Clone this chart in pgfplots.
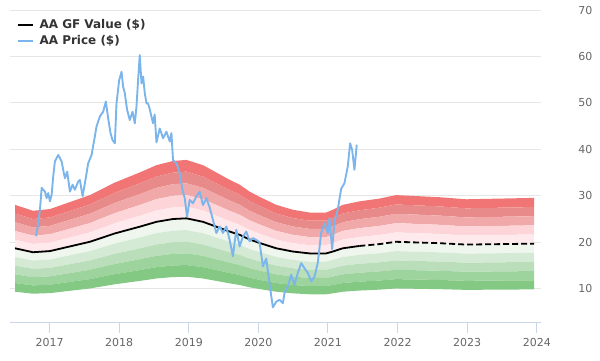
\documentclass[border=0pt]{standalone}
\usepackage{fontspec}
\setmainfont{DejaVu Sans}
\usepackage{pgfplots}
\usepackage{pgfplotstable}
\pgfplotsset{compat=1.18}
\usepgfplotslibrary{fillbetween}

\definecolor{rA}{RGB}{242,117,117}
\definecolor{rB}{RGB}{233,138,138}
\definecolor{rC}{RGB}{240,168,168}
\definecolor{rD}{RGB}{253,212,216}
\definecolor{rE}{RGB}{254,234,236}
\definecolor{gE}{RGB}{238,246,238}
\definecolor{gD}{RGB}{212,234,212}
\definecolor{gC}{RGB}{185,222,185}
\definecolor{gB}{RGB}{157,211,157}
\definecolor{gA}{RGB}{131,200,131}
\definecolor{priceblue}{RGB}{124,181,236}
\definecolor{gridgray}{RGB}{230,230,230}
\definecolor{axisblue}{RGB}{204,214,235}
\definecolor{labelgray}{RGB}{102,102,102}
\definecolor{legendtext}{RGB}{51,51,51}

\pgfplotstableread{
year gf
2016.504 18.7
2016.762 17.85
2017.006 18.1
2017.579 20.1
2017.938 21.9
2018.296 23.35
2018.536 24.4
2018.774 25.0
2018.966 25.15
2019.204 24.4
2019.396 23.35
2019.587 22.3
2019.731 21.6
2019.874 20.6
2020.017 19.85
2020.257 18.7
2020.495 18.0
2020.734 17.6
2020.974 17.6
2021.069 18.0
2021.212 18.7
2021.451 19.2
2021.738 19.6
2021.978 20.1
2022.599 19.8
2022.986 19.5
2023.961 19.7
}\gftable

\pgfplotstableread{
year gf
2016.504 18.7
2016.762 17.85
2017.006 18.1
2017.579 20.1
2017.938 21.9
2018.296 23.35
2018.536 24.4
2018.774 25.0
2018.966 25.15
2019.204 24.4
2019.396 23.35
2019.587 22.3
2019.731 21.6
2019.874 20.6
2020.017 19.85
2020.257 18.7
2020.495 18.0
2020.734 17.6
2020.974 17.6
2021.069 18.0
2021.212 18.7
2021.451 19.2
}\gfsolid

\pgfplotstableread{
year gf
2021.451 19.2
2021.738 19.6
2021.978 20.1
2022.599 19.8
2022.986 19.5
2023.961 19.7
}\gfdashed

\pgfplotstableread{
year price
2016.805 21.3
2016.824 22.7
2016.862 27.0
2016.887 31.7
2016.934 30.9
2016.958 29.5
2016.981 30.6
2017.006 28.8
2017.030 30.2
2017.053 34.2
2017.077 37.4
2017.125 38.8
2017.174 37.4
2017.196 35.6
2017.221 33.8
2017.254 35.2
2017.293 30.9
2017.331 32.4
2017.364 31.3
2017.412 33.1
2017.436 33.4
2017.475 29.9
2017.508 32.7
2017.555 37.0
2017.604 38.8
2017.651 42.8
2017.675 44.9
2017.723 47.1
2017.770 48.1
2017.809 50.3
2017.842 46.7
2017.876 43.5
2017.905 42.0
2017.938 41.3
2017.962 49.9
2018.000 54.9
2018.034 56.7
2018.057 53.5
2018.081 52.1
2018.114 48.5
2018.153 46.3
2018.192 48.1
2018.225 45.6
2018.249 49.2
2018.272 54.9
2018.296 60.3
2018.321 54.2
2018.344 55.7
2018.368 52.1
2018.393 49.9
2018.415 49.9
2018.440 48.6
2018.487 45.6
2018.510 47.5
2018.536 41.5
2018.583 44.5
2018.631 42.4
2018.679 43.8
2018.727 41.7
2018.751 43.5
2018.774 37.7
2018.823 37.0
2018.870 34.9
2018.909 31.3
2018.942 29.5
2018.975 25.5
2019.013 29.1
2019.061 28.4
2019.110 29.9
2019.157 30.9
2019.204 28.0
2019.253 29.5
2019.300 27.5
2019.348 24.8
2019.396 22.0
2019.444 23.4
2019.491 22.0
2019.540 23.4
2019.587 20.5
2019.634 17.0
2019.683 22.7
2019.731 19.1
2019.778 21.2
2019.827 22.3
2019.874 20.2
2019.921 20.9
2019.970 20.5
2020.017 20.0
2020.065 14.8
2020.113 16.5
2020.161 11.0
2020.208 6.0
2020.257 7.2
2020.304 7.6
2020.352 6.9
2020.376 9.1
2020.423 10.5
2020.472 13.0
2020.519 10.9
2020.567 13.4
2020.615 15.5
2020.663 14.4
2020.710 13.4
2020.759 11.6
2020.806 12.6
2020.853 15.5
2020.902 22.0
2020.950 24.1
2020.997 22.0
2021.021 25.2
2021.060 18.5
2021.093 24.5
2021.140 27.0
2021.189 31.5
2021.236 32.7
2021.284 36.3
2021.318 41.3
2021.347 39.9
2021.380 35.6
2021.413 41.0
}\pricetable

\begin{document}
\begin{tikzpicture}[x=1pt,y=1pt]
\path (0,0) rectangle (600,360);
\begin{axis}[
  at={(10pt,37.3pt)}, anchor=south west,
  width=531pt, height=312.7pt, scale only axis,
  xmin=2016.432, xmax=2024.06, ymin=2.68, ymax=70,
  axis x line*=bottom,
  axis y line*=right,
  x axis line style={draw=axisblue, line width=1pt, -},
  y axis line style={draw=none},
  xtick={2017,2018,2019,2020,2021,2022,2023,2024},
  xticklabels={2017,2018,2019,2020,2021,2022,2023,2024},
  ytick={10,20,30,40,50,60,70},
  yticklabels={10,20,30,40,50,60,70},
  xtick style={draw=axisblue, line width=1pt},
  ytick style={draw=none},
  tick align=outside,
  major tick length=10pt,
  ymajorgrids,
  grid style={draw=gridgray, line width=1pt},
  tick label style={font=\fontsize{11}{13}\selectfont, text=labelgray},
  yticklabel style={anchor=west, xshift=24pt},
  xticklabel style={yshift=-2pt},
  legend style={at={(0.01,0.98)}, anchor=north west, draw=none, fill=none,
    font=\fontsize{12}{14}\selectfont\bfseries, text=legendtext,
    row sep=1.5pt, inner sep=1pt},
  legend cell align=left,
  legend image code/.code={\draw[#1] (0pt,0pt) -- (15pt,0pt); \path (19pt,0pt);},
]
\addplot[draw=none, name path=m15, forget plot] table[x=year, y expr=\thisrow{gf}*1.5] {\gftable};
\addplot[draw=none, name path=m14, forget plot] table[x=year, y expr=\thisrow{gf}*1.4] {\gftable};
\addplot[draw=none, name path=m13, forget plot] table[x=year, y expr=\thisrow{gf}*1.3] {\gftable};
\addplot[draw=none, name path=m12, forget plot] table[x=year, y expr=\thisrow{gf}*1.2] {\gftable};
\addplot[draw=none, name path=m11, forget plot] table[x=year, y expr=\thisrow{gf}*1.1] {\gftable};
\addplot[draw=none, name path=m10, forget plot] table[x=year, y expr=\thisrow{gf}*1.0] {\gftable};
\addplot[draw=none, name path=m09, forget plot] table[x=year, y expr=\thisrow{gf}*0.9] {\gftable};
\addplot[draw=none, name path=m08, forget plot] table[x=year, y expr=\thisrow{gf}*0.8] {\gftable};
\addplot[draw=none, name path=m07, forget plot] table[x=year, y expr=\thisrow{gf}*0.7] {\gftable};
\addplot[draw=none, name path=m06, forget plot] table[x=year, y expr=\thisrow{gf}*0.6] {\gftable};
\addplot[draw=none, name path=m05, forget plot] table[x=year, y expr=\thisrow{gf}*0.5] {\gftable};
\addplot[fill=rA, draw=none, forget plot] fill between[of=m15 and m14];
\addplot[fill=rB, draw=none, forget plot] fill between[of=m14 and m13];
\addplot[fill=rC, draw=none, forget plot] fill between[of=m13 and m12];
\addplot[fill=rD, draw=none, forget plot] fill between[of=m12 and m11];
\addplot[fill=rE, draw=none, forget plot] fill between[of=m11 and m10];
\addplot[fill=gE, draw=none, forget plot] fill between[of=m10 and m09];
\addplot[fill=gD, draw=none, forget plot] fill between[of=m09 and m08];
\addplot[fill=gC, draw=none, forget plot] fill between[of=m08 and m07];
\addplot[fill=gB, draw=none, forget plot] fill between[of=m07 and m06];
\addplot[fill=gA, draw=none, forget plot] fill between[of=m06 and m05];

\addplot[black, line width=1.8pt, forget plot] table[x=year, y=gf] {\gfsolid};
\addplot[black, line width=1.8pt, dash pattern=on 6pt off 3pt, forget plot] table[x=year, y=gf] {\gfdashed};
\addplot[priceblue, line width=1.9pt, line join=round, forget plot] table[x=year, y=price] {\pricetable};

\addlegendimage{black, line width=2pt}
\addlegendentry{AA GF Value (\$)}
\addlegendimage{priceblue, line width=2pt}
\addlegendentry{AA Price (\$)}
\end{axis}
\end{tikzpicture}
\end{document}
